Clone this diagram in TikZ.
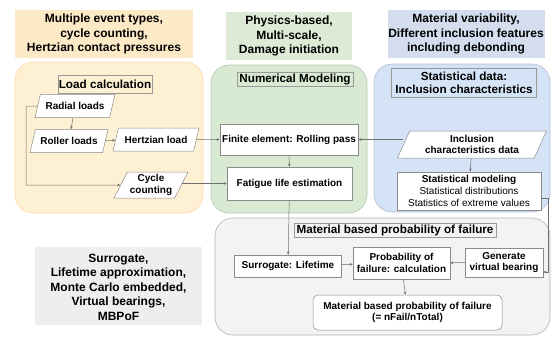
\documentclass[tikz,border=0pt]{standalone}
\usepackage{fontspec}
\setmainfont{Liberation Sans}
\usepackage{tikz}
\usetikzlibrary{arrows.meta,positioning,shapes.geometric}
\definecolor{mbink}{HTML}{1A1A1A}
\definecolor{mbline}{HTML}{6E6E6E}
\definecolor{mbyellow}{HTML}{FEF1D3}
\definecolor{mbyellowhd}{HTML}{FCE9C6}
\definecolor{mbgreen}{HTML}{D9EAD3}
\definecolor{mbgreenhd}{HTML}{DDEBD6}
\definecolor{mbblue}{HTML}{D5E3F6}
\definecolor{mbbluehd}{HTML}{D3DDEE}
\definecolor{mbgray}{HTML}{F3F3F3}
\definecolor{mbgrayhd}{HTML}{EEEEEE}

\begin{document}
\begin{tikzpicture}[x=1pt,y=-1pt,>={Stealth[length=3.2pt,width=2.6pt]},
    header/.style={align=center,font=\bfseries\fontsize{12}{14.5}\selectfont,inner sep=0pt},
    panel/.style={rounded corners=18pt,line width=0.6pt},
    caption/.style={draw=mbline!70,line width=0.4pt,font=\bfseries\fontsize{11.7}{13.5}\selectfont,align=center,inner sep=0.5pt},
    box/.style={draw=mbline!80,fill=white,line width=0.5pt,font=\bfseries\fontsize{10}{11.8}\selectfont,align=center,inner sep=1pt},
    io/.style={box,trapezium,trapezium left angle=60,trapezium right angle=120,trapezium stretches body},
    link/.style={->,draw=mbline,line width=0.5pt}]
  \useasboundingbox (0,0) rectangle (551,340);

  % keyword boxes on top and on the left
  \fill[mbyellowhd] (15,10) rectangle (193,58);
  \node[header] (hdrload) at (104,34) {Multiple event types,\\cycle counting,\\Hertzian contact pressures};
  \fill[mbgreenhd] (226,12) rectangle (352,60);
  \node[header] (hdrnum) at (289,36) {Physics-based,\\Multi-scale,\\Damage initiation};
  \fill[mbbluehd] (388,10) rectangle (545,58);
  \node[header] (hdrstat) at (466,34) {Material variability,\\Different inclusion features\\including debonding};
  \fill[mbgrayhd] (35,247) rectangle (202,325);
  \node[header] (hdrpof) at (118.5,287) {Surrogate,\\Lifetime approximation,\\Monte Carlo embedded,\\Virtual bearings,\\MBPoF};

  % the four stages
  \draw[panel,fill=mbyellow,draw=mbyellowhd!85!orange] (15,62) rectangle (203,213);
  \draw[panel,fill=mbgreen,draw=mbgreen!85!black] (211,65) rectangle (367,213);
  \draw[panel,fill=mbblue,draw=mbblue!85!black] (374,64) rectangle (550,212);
  \draw[panel,fill=mbgray,draw=black!30] (215,218) rectangle (550,335);

  \node[caption,minimum width=94pt,minimum height=18pt] (ttlload) at (105,84) {Load calculation};
  \node[caption,minimum width=116pt,minimum height=14pt] (ttlnum) at (295,79) {Numerical Modeling};
  \node[caption,minimum width=145pt,minimum height=29pt] (ttlstat) at (464,83) {Statistical data:\\Inclusion characteristics};
  \node[caption,minimum width=202pt,minimum height=14pt] (ttlpof) at (395,230) {Material based probability of failure};

  % load calculation
  \node[io,minimum width=80pt,minimum height=23pt] (radial) at (75,106) {Radial loads};
  \node[io,minimum width=78pt,minimum height=23pt] (roller) at (69,141) {Roller loads};
  \node[io,minimum width=86pt,minimum height=23pt] (hertz) at (156,139.5) {Hertzian load};
  \node[io,minimum width=74pt,minimum height=26pt] (cycle) at (151,185) {Cycle\\counting};

  % numerical modeling
  \node[box,minimum width=138pt,minimum height=31pt] (fe) at (289,139.5) {Finite element: Rolling pass};
  \node[box,minimum width=125pt,minimum height=33pt] (fatigue) at (289.5,183.5) {Fatigue life estimation};

  % statistical data
  \node[io,minimum width=149pt,minimum height=27pt] (incl) at (472,144.5) {Inclusion\\characteristics data};
  \node[box,minimum width=144pt,minimum height=38pt] (statmod) at (469,191)
    {Statistical modeling\\{\mdseries Statistical distributions}\\{\mdseries Statistics of extreme values}};

  % probability of failure
  \node[box,minimum width=107pt,minimum height=22pt] (surr) at (288,266) {Surrogate: Lifetime};
  \node[box,minimum width=97pt,minimum height=32pt] (prob) at (401.5,263) {Probability of\\failure: calculation};
  \node[box,minimum width=78pt,minimum height=29pt] (gen) at (504,262.5) {Generate\\virtual bearing};
  \node[box,rounded corners=5pt,minimum width=189pt,minimum height=35pt] (mbpof) at (407.5,312.5)
    {Material based probability of failure\\(= nFail/nTotal)};

  \coordinate (radialw) at (26,106);
  \coordinate (cyclew) at (26,185);
  \coordinate (statne) at (548,198);
  \coordinate (genne) at (548,272);

  \draw[link] (radial) -- (roller);
  \draw[link] (roller) -- (hertz);
  \draw[link] (radial.west) -- (radialw) -- (cyclew) -- (cycle.west |- cyclew);
  \draw[link] (hertz.east) -- (fe.west);
  \draw[link] (cycle.east |- fatigue.west) -- (fatigue.west);
  \draw[link] (incl.west |- fe.east) -- (fe.east);
  \draw[link] (incl) -- (statmod);
  \draw[link] (fe) -- (fatigue);
  \draw[link] (fatigue) -- (surr);
  \draw[link] (surr) -- (prob);
  \draw[link] (gen) -- (prob);
  \draw[link] (statmod.east |- statne) -- (statne) -- (genne) -- (gen.east |- genne);
  \draw[link] (prob) -- (mbpof);
\end{tikzpicture}
\end{document}
